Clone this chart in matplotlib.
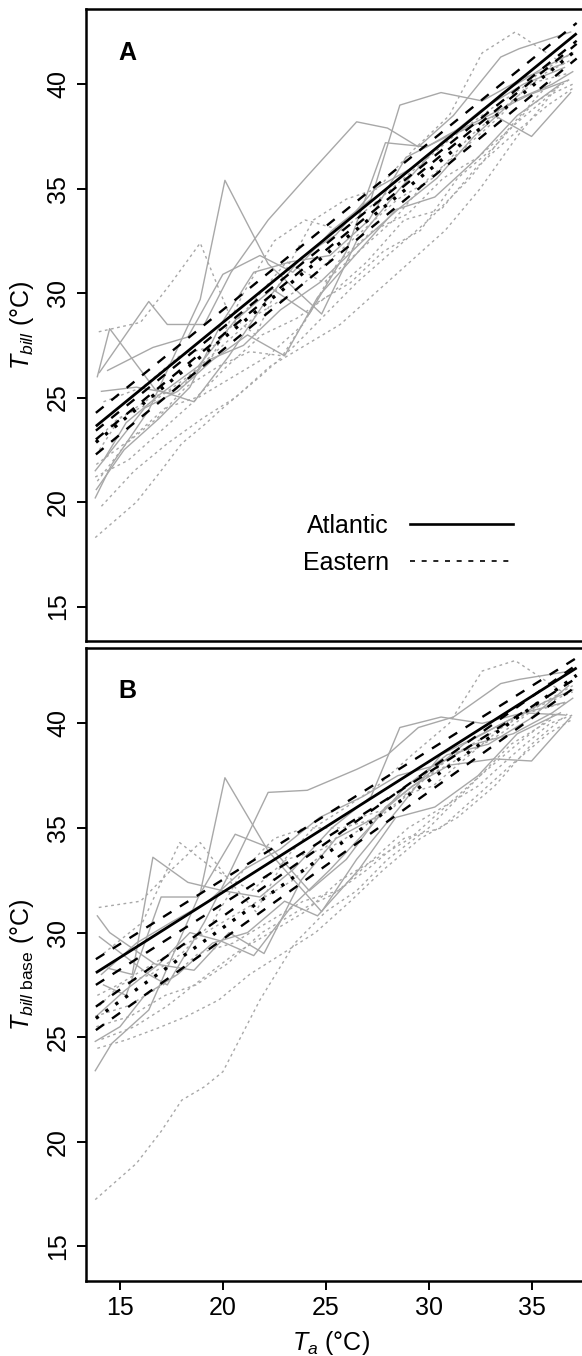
import numpy as np
import matplotlib
matplotlib.use('Agg')
import matplotlib.pyplot as plt
from matplotlib.lines import Line2D

plt.rcParams['font.family'] = ['Liberation Sans', 'DejaVu Sans']
plt.rcParams['mathtext.fontset'] = 'custom'
plt.rcParams['mathtext.rm'] = 'Liberation Sans'
plt.rcParams['mathtext.it'] = 'Liberation Sans:italic'
plt.rcParams['mathtext.sf'] = 'Liberation Sans'

# Ta (°C) at which each bird was measured
xa = [
    [13.8, 14.6, 16.4, 18.9, 20.1, 22.2, 24.8, 26.5, 28.6, 30.6, 32.6, 34.6, 36.6],
    [14.0, 16.4, 17.3, 19.1, 20.4, 22.2, 24.1, 26.5, 28.0, 29.5, 31.2, 33.5, 34.4, 36.9],
    [14.4, 15.6, 16.6, 18.3, 20.0, 21.8, 23.4, 25.3, 27.2, 28.6, 30.6, 32.6, 34.6, 36.6],
    [13.9, 14.5, 16.7, 18.6, 20.3, 22.0, 23.8, 25.5, 27.4, 29.2, 31.0, 33.2, 35.0, 36.9],
    [13.8, 15.0, 16.2, 17.8, 19.5, 21.2, 23.0, 24.6, 26.6, 28.4, 30.3, 32.4, 34.3, 36.4],
    [14.2, 15.3, 17.0, 18.8, 20.6, 22.4, 24.2, 26.0, 27.9, 29.9, 31.7, 33.6, 35.6, 37.0],
    [13.85, 15.2, 16.9, 18.4, 19.9, 21.5, 23.3, 25.2, 27.1, 28.9, 30.9, 32.9, 34.9, 36.8],
    [14.1, 15.8, 17.5, 19.3, 21.0, 22.8, 24.7, 26.8, 28.5, 30.4, 32.2, 34.1, 36.0, 37.0],
]
xe = [
    [13.8, 15.8, 17.0, 18.0, 19.1, 20.0, 21.8, 23.5, 25.0, 26.5, 28.0, 30.0, 32.0, 34.0, 36.0],
    [13.97, 16.0, 17.5, 18.9, 20.3, 21.6, 23.0, 24.4, 26.0, 27.5, 29.2, 31.0, 32.6, 34.2, 36.5],
    [13.9, 15.3, 16.8, 18.2, 19.8, 21.3, 22.9, 24.5, 26.2, 27.8, 29.6, 31.4, 33.2, 35.0, 36.8],
    [14.0, 15.0, 16.5, 18.0, 19.5, 21.0, 22.5, 24.0, 25.8, 27.6, 29.4, 31.2, 33.0, 34.8, 36.7],
    [13.85, 15.5, 17.2, 18.7, 20.2, 21.9, 23.6, 25.3, 27.0, 28.8, 30.6, 32.3, 34.0, 35.8, 37.0],
    [14.1, 15.7, 17.3, 19.0, 20.6, 22.3, 24.0, 25.7, 27.4, 29.1, 30.8, 32.5, 34.3, 36.2],
    [13.9, 14.9, 16.6, 18.3, 20.0, 21.7, 23.4, 25.1, 26.8, 28.5, 30.2, 32.0, 33.8, 35.6, 37.0],
    [14.2, 16.1, 17.9, 19.6, 21.4, 23.1, 24.9, 26.6, 28.3, 30.0, 31.8, 33.5, 35.3, 37.0],
    [13.8, 15.4, 17.1, 18.8, 20.5, 22.2, 23.9, 25.6, 27.3, 29.0, 30.7, 32.4, 34.1, 35.9, 37.0],
]

# panel A: bill temperature
bill_atl = [
    [20.2, 21.8, 24.4, 29.7, 35.4, 31.4, 29.0, 32.5, 35.0, 37.2, 38.8, 40.0, 40.8],
    [26.2, 29.6, 28.5, 28.5, 31.0, 33.5, 35.6, 38.2, 37.9, 37.0, 38.5, 41.3, 41.7, 42.5],
    [26.3, 26.9, 27.4, 27.9, 30.9, 31.8, 31.0, 33.0, 34.5, 39.0, 39.6, 39.2, 40.3, 41.0],
    [26.0, 28.3, 25.4, 24.8, 27.0, 29.5, 31.7, 32.8, 35.0, 36.0, 37.5, 38.5, 37.5, 39.6],
    [21.5, 23.0, 24.5, 25.3, 26.8, 28.0, 27.0, 29.8, 32.0, 34.0, 34.6, 36.5, 38.5, 40.0],
    [22.0, 23.8, 25.2, 26.5, 28.7, 30.2, 29.0, 32.0, 37.2, 37.0, 38.0, 39.6, 40.8, 41.5],
    [20.6, 22.5, 24.0, 25.5, 28.5, 31.0, 31.5, 31.8, 33.5, 36.5, 37.5, 38.5, 39.5, 40.2],
    [25.3, 25.5, 25.2, 26.8, 27.5, 29.2, 30.5, 32.5, 34.0, 35.5, 37.5, 39.2, 40.0, 40.6],
]
bill_east = [
    [18.3, 20.0, 21.5, 22.8, 23.7, 24.5, 26.0, 27.5, 29.0, 30.5, 31.8, 33.5, 35.5, 38.0, 40.2],
    [28.15, 28.6, 30.5, 32.4, 29.0, 28.0, 31.0, 33.5, 34.5, 35.0, 36.8, 38.5, 41.5, 42.5, 41.0],
    [21.0, 22.8, 24.0, 25.5, 26.5, 27.2, 27.0, 29.5, 30.5, 32.0, 33.0, 35.5, 37.0, 39.0, 40.2],
    [22.5, 24.0, 25.0, 25.5, 27.0, 30.0, 32.5, 33.5, 33.0, 34.5, 36.0, 37.5, 38.8, 40.0, 40.5],
    [21.8, 23.0, 24.5, 25.0, 26.5, 28.0, 28.8, 30.0, 31.5, 33.5, 34.0, 36.0, 37.5, 39.0, 39.8],
    [19.8, 21.5, 22.8, 24.0, 25.0, 26.5, 27.5, 28.5, 30.0, 31.5, 33.0, 35.0, 37.5, 39.8],
    [23.0, 24.0, 24.8, 26.0, 27.5, 29.0, 30.0, 31.5, 33.0, 34.5, 35.5, 37.5, 39.0, 40.5, 41.2],
    [24.8, 25.5, 27.0, 27.5, 29.5, 31.5, 30.5, 32.0, 33.5, 35.5, 37.0, 38.5, 40.5, 41.5],
    [21.2, 22.0, 23.5, 25.0, 26.0, 27.0, 28.5, 31.5, 33.0, 33.8, 35.5, 36.5, 38.0, 39.5, 40.0],
]

# panel B: bill base temperature
base_atl = [
    [23.4, 24.7, 26.3, 31.9, 37.4, 33.9, 31.0, 33.5, 36.0, 38.5, 39.5, 40.5, 41.0],
    [29.8, 28.0, 27.5, 30.5, 33.0, 36.7, 36.8, 37.8, 38.5, 39.8, 40.3, 41.9, 42.1, 42.5],
    [28.3, 28.0, 33.6, 32.4, 32.0, 31.7, 33.0, 35.0, 36.5, 39.8, 40.3, 40.0, 40.5, 40.4],
    [30.8, 30.0, 28.5, 28.2, 30.0, 29.0, 32.5, 34.5, 35.5, 37.0, 38.0, 38.3, 38.2, 40.3],
    [24.8, 25.5, 27.0, 28.0, 29.5, 30.0, 31.5, 30.8, 33.0, 35.5, 36.0, 37.5, 39.5, 40.5],
    [27.5, 27.0, 31.7, 31.7, 34.7, 34.0, 32.0, 33.5, 36.0, 37.5, 39.0, 40.0, 41.0, 41.6],
    [26.0, 27.2, 28.5, 30.0, 29.6, 28.9, 31.2, 33.0, 35.0, 37.0, 38.5, 39.0, 40.2, 41.8],
    [28.0, 29.5, 30.5, 31.5, 33.0, 34.0, 35.5, 36.5, 37.5, 38.0, 39.0, 39.5, 40.5, 41.2],
]
base_east = [
    [17.24, 18.97, 20.5, 21.99, 22.63, 23.35, 26.78, 29.5, 31.0, 32.0, 33.5, 35.0, 37.0, 39.0, 40.2],
    [31.2, 31.5, 33.0, 34.3, 32.5, 31.0, 33.5, 35.0, 36.0, 37.0, 38.5, 40.0, 42.5, 43.0, 41.5],
    [24.47, 24.87, 25.42, 25.98, 26.78, 28.0, 29.0, 30.0, 31.5, 33.0, 34.5, 35.5, 37.0, 39.0, 40.5],
    [26.5, 27.5, 28.0, 29.0, 30.5, 33.0, 34.5, 35.0, 35.0, 35.5, 37.0, 38.5, 39.5, 40.5, 41.0],
    [25.5, 26.0, 27.0, 27.5, 28.5, 30.0, 31.0, 31.8, 33.0, 34.5, 35.0, 36.5, 38.0, 39.5, 40.2],
    [24.9, 25.5, 26.5, 27.8, 29.0, 30.0, 31.0, 32.5, 33.5, 34.5, 36.0, 37.5, 39.0, 40.5],
    [27.0, 27.5, 28.5, 29.5, 30.5, 31.5, 32.5, 34.0, 35.0, 36.5, 37.0, 38.5, 40.0, 41.0, 41.8],
    [29.0, 30.5, 34.3, 33.0, 32.0, 33.5, 34.0, 35.5, 36.0, 37.5, 38.5, 39.5, 40.8, 41.5],
    [26.0, 26.5, 27.5, 29.0, 29.5, 30.5, 31.5, 32.0, 33.5, 35.0, 36.0, 37.0, 38.5, 40.0, 40.4],
]

# model fits (ends of the Ta range) with confidence limits
fit_x = [13.83, 37.19]
fit_bill_atl = [23.63, 42.43]
ci_bill_atl = ([24.27, 42.93], [23.0, 41.93])
fit_bill_east = [22.86, 41.65]
ci_bill_east = ([23.42, 42.08], [22.28, 41.23])
fit_base_atl = [28.08, 42.65]
ci_base_atl = ([28.73, 43.13], [27.50, 42.17])
fit_base_east = [25.90, 42.30]
ci_base_east = ([26.46, 42.80], [25.34, 41.78])

yticks = [15, 20, 25, 30, 35, 40]
xticks = [15, 20, 25, 30, 35]

W, H = 582, 1356
fig = plt.figure(figsize=(W / 100, H / 100), dpi=100)
ax1 = fig.add_axes([86 / W, 1 - 641 / H, 510 / W, 632 / H])
ax2 = fig.add_axes([86 / W, 1 - 1281 / H, 510 / W, 633 / H])

grey = '#a8a8a8'
fs = 18


def draw(ax, atl, east, fa, ca, fe, ce):
    for xs, ys in zip(xa, atl):
        ax.plot(xs, ys, color=grey, lw=1.0)
    for xs, ys in zip(xe, east):
        ax.plot(xs, ys, color=grey, lw=1.0, ls=(0, (2, 2.5)))
    ax.plot(fit_x, fa, color='black', lw=2.0, solid_capstyle='butt')
    ax.plot(fit_x, fe, color='black', lw=2.4, ls=(0, (1, 2.6)))
    for c in ca + ce:
        ax.plot(fit_x, c, color='black', lw=1.7, ls=(0, (4.2, 4.2)))
    ax.set_xlim(13.35, 38.13)
    ax.set_ylim(13.35, 43.6)
    ax.set_yticks(yticks)
    ax.spines['right'].set_visible(False)
    for s in ['left', 'top', 'bottom']:
        ax.spines[s].set_linewidth(1.8)
    ax.tick_params(axis='y', length=6.5, width=1.4, pad=5, labelsize=fs,
                   labelrotation=90)
    for lab in ax.get_yticklabels():
        lab.set_va('center')


draw(ax1, bill_atl, bill_east, fit_bill_atl, ci_bill_atl, fit_bill_east, ci_bill_east)
draw(ax2, base_atl, base_east, fit_base_atl, ci_base_atl, fit_base_east, ci_base_east)

ax1.set_xticks([])
ax2.set_xticks(xticks)
ax2.tick_params(axis='x', length=6.5, width=1.4, pad=4, labelsize=fs)

ax1.text(14.9, 41.5, 'A', fontsize=fs, fontweight='bold', va='center', ha='left')
ax2.text(14.9, 41.55, 'B', fontsize=fs, fontweight='bold', va='center', ha='left')

ax1.set_ylabel(r'$T_{bill}$ (°C)', fontsize=fs)
ax2.set_ylabel(r'$T_{bill\ \mathrm{base}}$ (°C)', fontsize=fs)
for ax in (ax1, ax2):
    ax.yaxis.label.set_va('center')
    ax.yaxis.set_label_coords(-0.1255, 0.5)
ax2.set_xlabel(r'$T_a$ (°C)', fontsize=fs)
ax2.xaxis.label.set_va('center')
ax2.xaxis.set_label_coords(0.48, -0.098)

handles = [Line2D([], [], color='black', lw=1.9),
           Line2D([], [], color='black', lw=1.2, ls=(0, (3, 4)))]
ax1.legend(handles, ['Atlantic', 'Eastern'], loc='center',
           bbox_to_anchor=(0.631, 0.1527), frameon=False, fontsize=fs,
           markerfirst=False, handlelength=4.1, handletextpad=0.85,
           labelspacing=0.5, borderpad=0, borderaxespad=0)

fig.savefig('out.png', dpi=100)
